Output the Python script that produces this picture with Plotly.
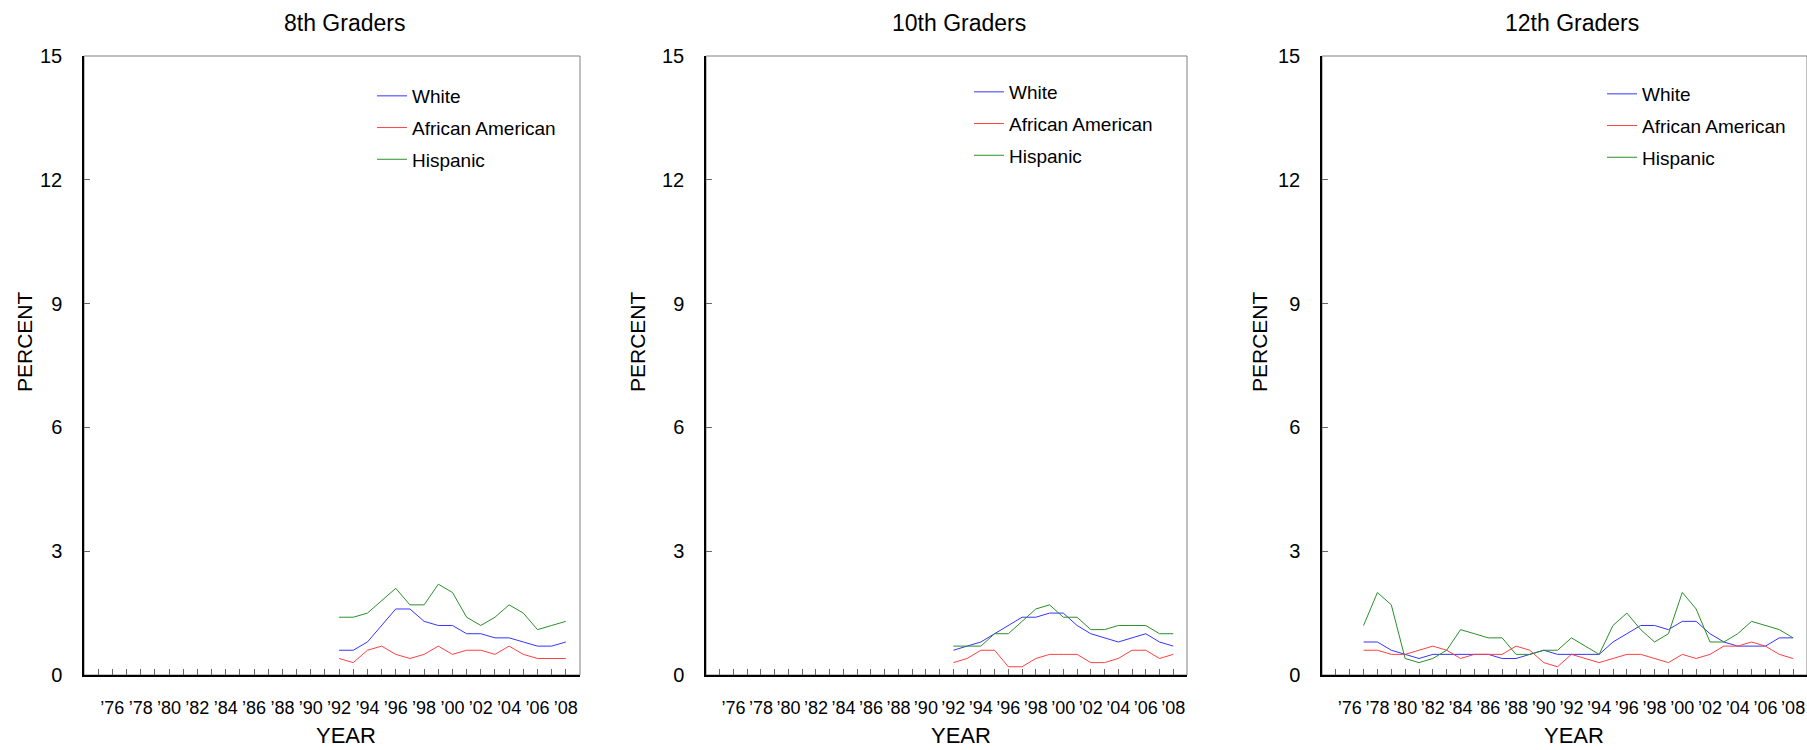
import plotly.graph_objects as go

# ---------------- data ----------------
years_8 = list(range(1992, 2009))
white_8 = [0.6, 0.6, 0.8, 1.2, 1.6, 1.6, 1.3, 1.2, 1.2, 1.0, 1.0, 0.9, 0.9, 0.8, 0.7, 0.7, 0.8]
afam_8 = [0.4, 0.3, 0.6, 0.7, 0.5, 0.4, 0.5, 0.7, 0.5, 0.6, 0.6, 0.5, 0.7, 0.5, 0.4, 0.4, 0.4]
hisp_8 = [1.4, 1.4, 1.5, 1.8, 2.1, 1.7, 1.7, 2.2, 2.0, 1.4, 1.2, 1.4, 1.7, 1.5, 1.1, 1.2, 1.3]

years_10 = list(range(1992, 2009))
white_10 = [0.6, 0.7, 0.8, 1.0, 1.2, 1.4, 1.4, 1.5, 1.5, 1.2, 1.0, 0.9, 0.8, 0.9, 1.0, 0.8, 0.7]
afam_10 = [0.3, 0.4, 0.6, 0.6, 0.2, 0.2, 0.4, 0.5, 0.5, 0.5, 0.3, 0.3, 0.4, 0.6, 0.6, 0.4, 0.5]
hisp_10 = [0.7, 0.7, 0.7, 1.0, 1.0, 1.3, 1.6, 1.7, 1.4, 1.4, 1.1, 1.1, 1.2, 1.2, 1.2, 1.0, 1.0]

years_12 = list(range(1977, 2009))
white_12 = [0.8, 0.8, 0.6, 0.5, 0.4, 0.5, 0.5, 0.5, 0.5, 0.5, 0.4, 0.4, 0.5, 0.6, 0.5, 0.5,
            0.5, 0.5, 0.8, 1.0, 1.2, 1.2, 1.1, 1.3, 1.3, 1.0, 0.8, 0.7, 0.7, 0.7, 0.9, 0.9]
afam_12 = [0.6, 0.6, 0.5, 0.5, 0.6, 0.7, 0.6, 0.4, 0.5, 0.5, 0.5, 0.7, 0.6, 0.3, 0.2, 0.5,
           0.4, 0.3, 0.4, 0.5, 0.5, 0.4, 0.3, 0.5, 0.4, 0.5, 0.7, 0.7, 0.8, 0.7, 0.5, 0.4]
hisp_12 = [1.2, 2.0, 1.7, 0.4, 0.3, 0.4, 0.6, 1.1, 1.0, 0.9, 0.9, 0.5, 0.5, 0.6, 0.6, 0.9,
           0.7, 0.5, 1.2, 1.5, 1.1, 0.8, 1.0, 2.0, 1.6, 0.8, 0.8, 1.0, 1.3, 1.2, 1.1, 0.9]

panel_titles = ["8th Graders", "10th Graders", "12th Graders"]
series_names = ["White", "African American", "Hispanic"]
tick_years = list(range(1975, 2009))
tick_text = [("\u2019%02d" % (y % 100)) if y % 2 == 0 else "" for y in tick_years]
y_ticks = [0, 3, 6, 9, 12, 15]

panels = [
    (years_8, [white_8, afam_8, hisp_8]),
    (years_10, [white_10, afam_10, hisp_10]),
    (years_12, [white_12, afam_12, hisp_12]),
]

# ---------------- styling ----------------
W, H = 1807, 750
FONT = "Arial, Liberation Sans, Helvetica, sans-serif"
colors = ["#3535ff", "#ff4040", "#2a8f2a"]
x_domains = [(84, 580), (706, 1187), (1322, 1807)]
title_x = [344, 959, 1572]
ytitle_x = [25, 638, 1260]
legend_x = [372, 969, 1602]
legend_y = [77, 73, 75]
y_top, y_bot = 56, 675

fig = go.Figure()
for i, (yrs, vals) in enumerate(panels):
    sfx = "" if i == 0 else str(i + 1)
    leg = "legend" if i == 0 else "legend%d" % (i + 1)
    for j, (name, v) in enumerate(zip(series_names, vals)):
        fig.add_trace(go.Scatter(
            x=yrs, y=v, mode="lines", name=name,
            line=dict(color=colors[j], width=1),
            xaxis="x" + sfx, yaxis="y" + sfx,
            legend=leg, legendgroup="g%d_%d" % (i, j),
            showlegend=True, hoverinfo="x+y+name",
        ))

    dom = [x_domains[i][0] / W, min(x_domains[i][1] / W, 1.0)]
    ydom = [1 - y_bot / H, 1 - y_top / H]
    fig.layout["xaxis" + sfx] = dict(
        domain=dom, range=[1974, 2009], anchor="y" + sfx,
        tickvals=tick_years, ticktext=tick_text,
        ticks="inside", ticklen=6, tickcolor="#666", tickwidth=1,
        showline=True, linecolor="black", linewidth=1.5,
        showgrid=False, zeroline=False,
        tickfont=dict(family=FONT, size=18, color="black"),
        ticklabelstandoff=16, automargin=False, fixedrange=True,
    )
    fig.layout["yaxis" + sfx] = dict(
        domain=ydom, range=[0, 15], anchor="x" + sfx,
        tickvals=y_ticks,
        ticks="inside", ticklen=6, tickcolor="#666", tickwidth=1,
        showline=True, linecolor="black", linewidth=1.5,
        showgrid=False, zeroline=False,
        tickfont=dict(family=FONT, size=20, color="black"),
        ticklabelstandoff=16, automargin=False, fixedrange=True,
    )
    fig.layout[leg] = dict(
        x=legend_x[i] / W, y=1 - legend_y[i] / H, xanchor="left", yanchor="top",
        bgcolor="rgba(0,0,0,0)", borderwidth=0,
        font=dict(family=FONT, size=19, color="black"),
        tracegroupgap=4,
    )
    # grey frame around the plot area
    fig.add_shape(type="rect", xref="x%s domain" % sfx, yref="y%s domain" % sfx,
                  x0=0, x1=1, y0=0, y1=1, line=dict(color="#808080", width=1),
                  layer="below")
    fig.add_annotation(text=panel_titles[i], x=title_x[i] / W, y=1 - 23 / H,
                       xref="paper", yref="paper", showarrow=False,
                       xanchor="center", yanchor="middle",
                       font=dict(family=FONT, size=23, color="black"))
    fig.add_annotation(text="YEAR", x=title_x[i] / W + 2 / W, y=1 - 735 / H,
                       xref="paper", yref="paper", showarrow=False,
                       xanchor="center", yanchor="middle",
                       font=dict(family=FONT, size=22, color="black"))
    fig.add_annotation(text="PERCENT", x=ytitle_x[i] / W, y=1 - 342 / H,
                       xref="paper", yref="paper", showarrow=False, textangle=-90,
                       xanchor="center", yanchor="middle",
                       font=dict(family=FONT, size=21, color="black"))

fig.update_layout(
    width=W, height=H,
    margin=dict(l=0, r=0, t=0, b=0),
    paper_bgcolor="white", plot_bgcolor="white",
    font=dict(family=FONT, color="black"),
)

fig.write_html(
    "out.html",
    config={"displayModeBar": False},
    post_script="document.body.style.margin='0';document.body.style.overflow='hidden';",
)
